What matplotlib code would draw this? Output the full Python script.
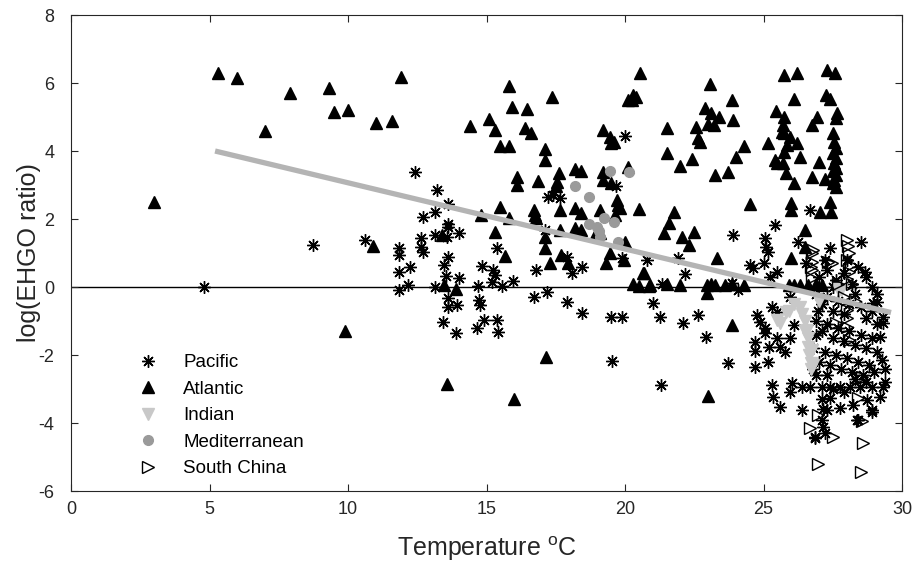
import numpy as np
import matplotlib
matplotlib.use('Agg')
import matplotlib.pyplot as plt

plt.rcParams['font.family'] = ['Liberation Sans', 'DejaVu Sans']
plt.rcParams['mathtext.fontset'] = 'custom'
plt.rcParams['mathtext.rm'] = 'Liberation Sans'
plt.rcParams['axes.unicode_minus'] = False

# temperature (degC) and log(EHGO ratio) per basin
pacific_t = [4.8, 8.75, 10.6, 12.4, 13.2, 13.6, 13.15, 12.7, 12.63, 12.63, 12.7, 11.85, 11.85, 12.24, 11.85,
             12.15, 11.85, 13.15, 13.62, 13.58, 14.0, 13.6, 13.62, 13.47, 13.54, 14.02, 13.14, 13.62, 13.62,
             13.92, 13.44, 13.9, 14.83, 14.7, 14.74, 14.77, 14.89, 14.65, 15.37, 15.43, 15.37, 15.25, 15.3,
             15.19, 15.55, 15.95, 16.8, 16.7, 17.17, 17.23, 17.4, 17.65, 17.1, 17.9, 18.44, 18.07, 17.9, 18.44,
             19.5, 19.88, 19.52, 19.67, 20.0, 19.88, 20.78, 21.0, 21.26, 21.3, 21.32, 21.92, 22.17, 22.08,
             22.65, 22.92, 23.73, 23.9, 23.85, 24.09, 24.75, 24.87, 25.05, 25.3, 25.47, 25.96, 24.7, 24.7,
             24.7, 25.17, 25.05, 25.2, 25.47, 25.6, 25.78, 25.96, 26.08, 25.3, 25.35, 25.6, 26.02, 25.96,
             26.38, 26.68, 26.38, 26.84, 27.16, 27.22, 25.42, 25.05, 25.1, 25.17, 25.0, 24.63, 24.5, 25.47,
             25.23, 26.66, 26.23, 26.53, 27.4, 28.5, 28.66, 29.08, 29.32, 29.32, 29.2, 29.26, 29.32, 28.96,
             27.76, 28.24, 28.42, 28.9, 29.2, 27.4, 27.28, 28.72, 28.9, 27.1, 27.4, 27.76, 28.12, 28.48, 28.9,
             26.86, 28.36,
             26.9, 27.1, 27.3, 27.5, 27.7, 27.9, 28.1, 28.3, 28.5, 28.7, 28.9, 29.1,
             26.9, 27.1, 27.3, 27.5, 27.7, 27.9, 28.1, 28.3, 28.5, 28.7, 28.9, 29.1,
             26.8, 27.0, 27.2, 27.4, 27.6, 27.8, 28.0, 28.2, 28.4, 28.6, 28.8, 29.0, 29.4,
             26.9, 27.3, 27.5, 27.9, 28.3, 28.7, 29.4,
             27.0, 27.3, 27.6, 27.9, 28.2, 28.4, 28.7, 28.9, 29.1, 28.0, 27.5, 27.2,
             27.1, 27.15, 27.1, 26.9, 26.8, 26.95]
pacific_r = [0.0, 1.25, 1.38, 3.37, 2.85, 2.44, 2.22, 2.07, 1.45, 1.19, 1.04, 1.14, 0.94, 0.6, 0.45,
             0.05, -0.09, 1.53, 1.77, 1.46, 1.58, 1.85, 0.89, 0.65, 0.32, 0.26, 0.0, -0.33, -0.58,
             -0.53, -1.02, -1.34, 0.63, 0.02, -0.38, -0.53, -0.97, -1.21, -0.97, -1.31, 1.14, 0.5, 0.35,
             0.16, 0.04, 0.18, 0.5, -0.28, -0.14, 2.66, 2.72, 2.61, 1.68, 0.89, 0.6, 0.4, -0.43, -0.76,
             -0.89, -0.89, -2.17, 2.97, 4.44, 0.84, 0.79, -0.46, -0.89, -2.88, 0.1, 0.84, 0.38, -1.07,
             -0.82, -1.48, -2.23, 1.53, 0.13, -0.09, -0.82, -1.02, -1.21, -0.58, -0.73, -0.28, -1.61, -1.87,
             -2.36, -2.2, -1.36, -1.76, -1.51, -1.76, -1.9, -1.51, -1.12, -2.88, -3.23, -3.52, -2.83, -3.08,
             -2.93, -2.93, -3.62, -4.4, -4.11, -4.3, 1.82, 1.43, 1.19, 1.04, 0.7, 0.55, 0.65, 0.45,
             0.3, 2.28, 1.33, 0.7, 1.14, 1.33, 0.45, -0.43, -0.87, -1.07, -1.46, -2.15, -2.93, -0.48,
             -3.57, -3.47, -3.91, -3.67, -3.23, -3.27, -3.62, -3.32, -3.62, -2.93, -2.93, -2.93, -2.93, -2.93, -2.93,
             -4.45, -3.91,
             -0.2, -0.5, -0.3, -0.7, -0.4, -0.8, -0.5, -0.2, -0.6, -0.9, -0.7, -1.1,
             -1.0, -1.3, -1.1, -1.5, -1.2, -1.6, -1.3, -1.7, -1.4, -1.8, -1.5, -1.9,
             -1.8, -2.2, -1.9, -2.3, -2.0, -2.4, -2.1, -2.5, -2.2, -2.6, -2.3, -2.5, -2.4,
             -2.6, -2.6, -3.0, -3.1, -2.7, -2.8, -2.8,
             0.3, 0.5, 0.2, 0.4, 0.1, 0.6, 0.3, 0.0, -0.2, 0.8, 0.0, 0.8,
             -3.3, -3.6, -3.9, -1.4, -2.4, -0.7]

atlantic_t = [3.0, 5.3, 6.0, 7.0, 7.9, 9.3, 9.5, 10.0, 11.0, 11.6, 11.9, 9.9, 10.9,
              14.4, 15.1, 15.3, 15.8, 15.9, 16.45, 17.35, 16.4, 16.6, 15.5, 15.8, 17.1, 17.1,
              19.2, 19.45, 19.6, 19.5, 20.55, 20.1, 20.3, 20.25, 20.4,
              16.1, 16.1, 16.86, 17.6, 17.55, 17.5, 18.2, 18.4, 19.2, 19.2, 19.5, 20.1,
              19.7, 19.75, 19.8, 20.5, 19.1, 18.2, 18.4, 17.65, 16.7, 16.75, 16.8, 15.5, 14.8, 15.8, 15.3,
              17.1, 17.1, 17.65, 18.2, 18.4, 19.1, 20.0, 19.64, 18.9, 13.38,
              15.65, 17.3, 17.7, 17.95, 19.3, 19.45, 19.95, 20.65, 20.3, 20.5, 20.85,
              13.45, 13.9, 17.15, 13.56, 16.0, 23.85, 23.0, 22.95,
              23.07, 23.85, 22.9, 23.1, 23.4, 23.0, 23.2, 23.9,
              21.5, 22.55, 22.65, 22.7, 21.5, 22.0, 22.4, 23.25, 23.7, 24.0, 24.3, 24.5,
              21.75, 21.6, 21.4, 22.05, 22.5, 22.3, 23.3, 20.7,
              26.0, 26.5, 26.5,
              22.95, 23.1, 23.25, 23.6, 23.85, 24.3, 21.5, 20.9, 26.1, 26.3, 26.9, 27.1, 26.6, 25.9, 22.0,
              25.44, 25.72, 25.69, 25.66, 25.75, 25.96, 26.2, 25.84, 25.72, 25.42, 25.48, 25.69, 25.8, 26.08, 25.17, 26.32,
              25.73, 26.2, 26.1, 26.74, 26.92, 27.0, 26.74, 27.2,
              27.3, 27.56, 27.26, 27.4, 27.64, 27.62,
              27.5, 27.55, 27.6, 27.5, 27.6, 27.55, 27.6, 27.5, 27.6, 27.55, 27.5, 27.6,
              26.0, 26.0, 27.04, 27.44, 27.38]
atlantic_r = [2.5, 6.3, 6.15, 4.6, 5.7, 5.85, 5.15, 5.2, 4.83, 4.89, 6.19, -1.3, 1.2,
              4.75, 4.94, 4.62, 5.91, 5.3, 5.25, 5.58, 4.68, 4.52, 4.16, 4.16, 4.05, 3.74,
              4.62, 4.41, 4.27, 4.24, 6.29, 5.5, 5.65, 5.5, 5.58,
              3.24, 3.0, 3.12, 3.34, 3.1, 2.97, 3.46, 3.42, 3.39, 3.15, 3.05, 3.54,
              2.56, 2.41, 2.31, 2.3, 2.26, 2.31, 2.17, 2.26, 2.26, 2.12, 2.02, 2.36, 2.12, 2.02, 1.61,
              1.46, 1.14, 1.69, 1.74, 1.68, 1.58, 1.33, 2.12, 1.53, 1.53,
              0.91, 0.7, 0.94, 0.7, 0.7, 0.99, 0.79, 0.4, 0.1, 0.03, 0.03,
              0.06, -0.07, -2.05, -2.85, -3.3, -1.12, -3.2, -0.19,
              5.96, 5.5, 5.26, 5.11, 5.01, 4.79, 4.76, 4.91,
              4.67, 4.72, 4.37, 4.27, 3.93, 3.57, 3.78, 3.29, 3.37, 3.83, 4.16, 2.44,
              2.21, 1.89, 1.58, 1.46, 1.61, 1.24, 0.84, 0.42,
              0.84, 1.68, 1.19,
              0.05, 0.08, 0.05, 0.05, 0.1, 0.05, 0.08, 0.05, 0.05, 0.05, 0.08, 0.05, 0.05, 0.05, 0.05,
              5.18, 5.01, 4.76, 4.57, 4.52, 4.42, 4.23, 4.18, 3.98, 3.74, 3.64, 3.64, 3.34, 3.05, 4.24, 3.83,
              6.24, 6.29, 5.53, 4.76, 4.99, 3.69, 3.24, 3.18,
              6.38, 6.29, 5.65, 5.53, 5.11, 4.96,
              4.53, 4.28, 4.1, 3.95, 3.8, 3.65, 3.5, 3.4, 3.3, 3.15, 3.05, 2.95,
              2.46, 2.26, 2.21, 2.21, 2.49]

indian_t = [25.5, 25.6, 25.8, 25.9, 26.1, 26.3, 26.4, 26.5, 26.5, 26.55, 26.6, 26.6, 26.65, 26.7, 26.7,
            26.75, 26.8, 27.0, 27.7, 27.8]
indian_r = [-0.97, -1.05, -0.73, -0.7, -0.5, -0.58, -0.8, -1.0, -1.3, -1.26, -1.5, -1.76, -2.0, -2.24, -2.4,
            -1.85, -2.29, -0.4, -0.05, -0.1]

med_t = [18.2, 18.7, 18.7, 19.0, 19.05, 19.1, 19.25, 19.45, 19.6, 19.75, 20.15]
med_r = [2.98, 2.64, 1.85, 1.77, 1.66, 1.48, 2.04, 3.42, 1.9, 1.31, 3.37]

scs_t = [26.74, 26.74, 26.74, 26.74, 26.8, 26.7, 27.34, 27.46, 28.0, 28.05, 28.1, 28.0, 28.15, 28.1, 28.0,
         28.2, 28.0, 28.0, 28.0, 27.6, 28.1, 28.55, 26.98, 26.68, 27.52, 28.55, 28.58, 26.98, 28.5, 28.4,
         27.9, 28.3, 27.7]
scs_r = [0.99, 0.74, 0.5, 0.26, 1.1, 0.6, 0.74, 0.7, 1.38, 1.2, 1.0, 0.8, 0.65, 0.45, 0.25,
         0.1, -0.68, -0.91, -1.17, -1.07, -1.56, -2.64, -3.76, -4.16, -4.4, -3.93, -4.6, -5.21, -5.43, -3.27,
         -0.3, -0.4, 0.1]

# linear fit drawn across the sampled range
fit_t = [5.2, 29.6]
fit_r = [4.0, -0.75]

fig = plt.figure(figsize=(9.14, 5.67), dpi=100)
ax = fig.add_axes([0.0777, 0.134, 0.9093, 0.8395])

ax.axhline(0, color='k', lw=1.0, zorder=1)

ax.plot(pacific_t, pacific_r, ls='none', marker=(8, 2, 0), ms=9, mew=1.0, color='k', label='Pacific', zorder=2)
ax.plot(atlantic_t, atlantic_r, ls='none', marker='^', ms=8.5, color='k', mec='k', label='Atlantic', zorder=3)
ax.plot(indian_t, indian_r, ls='none', marker='v', ms=8.5, color='#c8c8c8', mec='#c8c8c8', label='Indian', zorder=4)
ax.plot(med_t, med_r, ls='none', marker='o', ms=7, color='#9a9a9a', mec='#9a9a9a', label='Mediterranean', zorder=4)
ax.plot(scs_t, scs_r, ls='none', marker='>', ms=8, mfc='none', mec='k', mew=1.0, label='South China', zorder=5)
ax.plot(fit_t, fit_r, color='#b4b4b4', lw=3.8, solid_capstyle='butt', zorder=6)

ax.set_xlim(0, 30)
ax.set_ylim(-6, 8)
ax.set_xticks(np.arange(0, 31, 5))
ax.set_yticks(np.arange(-6, 9, 2))
ax.tick_params(direction='in', top=True, right=True, length=5, width=0.8,
               labelsize=13, colors='#262626')
ax.tick_params(axis='y', pad=12)
ax.tick_params(axis='x', pad=7)
for s in ax.spines.values():
    s.set_color('#262626')
    s.set_linewidth(0.8)

ax.set_xlabel(r'Temperature $^{\mathregular{o}}$C', fontsize=18, color='#262626', labelpad=12)
ax.set_ylabel('log(EHGO ratio)', fontsize=18, color='#262626', labelpad=-2)

ax.legend(loc='lower left', bbox_to_anchor=(0.055, -0.007), frameon=False, fontsize=13.5,
          handlelength=1.5, handletextpad=1.15, labelspacing=0.5)

fig.savefig('out.png', dpi=100)
